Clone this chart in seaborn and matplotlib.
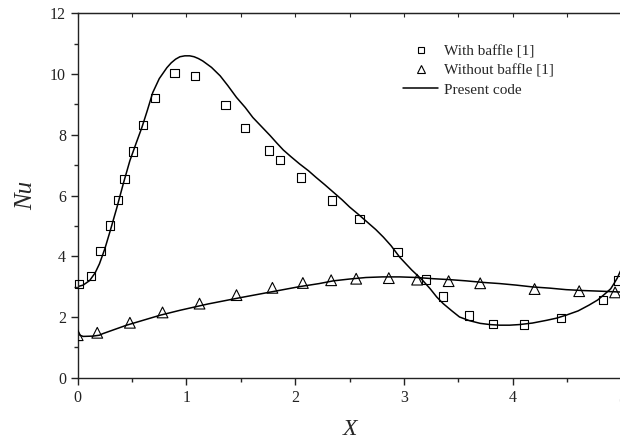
import numpy as np
import pandas as pd
import matplotlib
matplotlib.use("Agg")
import matplotlib.pyplot as plt
from matplotlib.lines import Line2D
from matplotlib.ticker import MultipleLocator
import seaborn as sns

# Экспериментальные точки: с перегородкой [1]
baffle_x = [0.015, 0.12, 0.21, 0.30, 0.37, 0.43, 0.51, 0.60, 0.71, 0.89, 1.08,
            1.36, 1.54, 1.76, 1.86, 2.05, 2.34, 2.59, 2.94, 3.20, 3.36, 3.60,
            3.82, 4.10, 4.44, 4.83, 4.97]
baffle_nu = [3.08, 3.36, 4.17, 5.01, 5.86, 6.55, 7.45, 8.33, 9.21, 10.04, 9.94,
             8.98, 8.23, 7.48, 7.17, 6.59, 5.84, 5.23, 4.15, 3.23, 2.67, 2.05,
             1.77, 1.75, 1.96, 2.55, 3.20]

# Экспериментальные точки: без перегородки [1]
plain_x = [0.0, 0.18, 0.48, 0.78, 1.12, 1.46, 1.79, 2.07, 2.33, 2.56, 2.86,
           3.12, 3.41, 3.70, 4.20, 4.61, 4.94]
plain_nu = [1.40, 1.48, 1.81, 2.15, 2.44, 2.72, 2.96, 3.12, 3.21, 3.26, 3.28,
            3.23, 3.18, 3.11, 2.92, 2.85, 2.81]

# Расчёт (present code), с перегородкой
code_b_x = [0.0, 0.05, 0.11, 0.16, 0.20, 0.25, 0.30, 0.36, 0.42, 0.48, 0.54, 0.59,
            0.64, 0.69, 0.75, 0.82, 0.86, 0.90, 0.94, 0.985, 1.03, 1.07, 1.11,
            1.15, 1.23, 1.31, 1.38, 1.46, 1.54, 1.61, 1.69, 1.77, 1.83, 1.89,
            1.96, 2.04, 2.12, 2.19, 2.27, 2.35, 2.43, 2.50, 2.58, 2.66, 2.74,
            2.81, 2.88, 2.96, 3.02, 3.07, 3.12, 3.17, 3.24, 3.30, 3.36, 3.44,
            3.51, 3.60, 3.70, 3.79, 3.88, 3.97, 4.06, 4.18, 4.31, 4.40, 4.49,
            4.60, 4.70, 4.78, 4.85, 4.90, 4.93, 4.96, 4.99]
code_b_nu = [3.00, 3.05, 3.20, 3.45, 3.75, 4.25, 4.85, 5.60, 6.40, 7.15, 7.75, 8.24,
             8.80, 9.39, 9.85, 10.21, 10.37, 10.49, 10.57, 10.60, 10.60, 10.57, 10.51,
             10.43, 10.22, 9.94, 9.62, 9.23, 8.90, 8.57, 8.27, 7.97, 7.73, 7.50,
             7.28, 7.04, 6.82, 6.60, 6.36, 6.11, 5.86, 5.62, 5.38, 5.13, 4.88,
             4.63, 4.35, 3.97, 3.74, 3.55, 3.38, 3.21, 2.93, 2.66, 2.44, 2.20,
             2.00, 1.88, 1.79, 1.75, 1.73, 1.73, 1.75, 1.80, 1.89, 1.96, 2.06,
             2.20, 2.39, 2.56, 2.77, 2.93, 3.10, 3.28, 3.52]

# Расчёт (present code), без перегородки
code_p_x = [0.0, 0.02, 0.05, 0.14, 0.20, 0.23, 0.45, 0.76, 0.94, 1.20, 1.50,
            1.80, 2.04, 2.22, 2.35, 2.50, 2.65, 2.80, 2.96, 3.12, 3.27, 3.42,
            3.57, 3.72, 3.88, 4.03, 4.18, 4.34, 4.49, 4.65, 4.80, 5.0]
code_p_nu = [1.52, 1.40, 1.36, 1.37, 1.40, 1.45, 1.73, 2.06, 2.22, 2.43, 2.64,
             2.84, 3.00, 3.10, 3.19, 3.25, 3.30, 3.32, 3.32, 3.30, 3.26, 3.23,
             3.19, 3.14, 3.10, 3.05, 2.99, 2.95, 2.90, 2.87, 2.85, 2.82]

sns.set_style("ticks")
plt.rcParams['font.family'] = ['Liberation Serif', 'DejaVu Serif']

fig = plt.figure(figsize=(6.2, 4.41), dpi=100)
ax = fig.add_axes([0.1253, 0.1435, 0.8773, 0.8263])

sns.lineplot(x=code_b_x, y=code_b_nu, ax=ax, color='black', lw=1.1,
             sort=False, estimator=None)
sns.lineplot(x=code_p_x, y=code_p_nu, ax=ax, color='black', lw=1.1,
             sort=False, estimator=None)

sns.scatterplot(x=baffle_x, y=baffle_nu, ax=ax, marker='s', s=36,
                edgecolor='black', linewidth=0.8, zorder=3, clip_on=False)
ax.collections[-1].set_facecolor('none')
sns.scatterplot(x=plain_x, y=plain_nu, ax=ax, marker='^', s=60,
                edgecolor='black', linewidth=0.8, zorder=3)
ax.collections[-1].set_facecolor('none')

ax.set_xlim(0, 5)
ax.set_ylim(0, 12)
ax.xaxis.set_major_locator(MultipleLocator(1))
ax.xaxis.set_minor_locator(MultipleLocator(0.5))
ax.yaxis.set_major_locator(MultipleLocator(2))
ax.yaxis.set_minor_locator(MultipleLocator(1))

for s in ['top', 'left', 'bottom', 'right']:
    ax.spines[s].set_visible(True)
    ax.spines[s].set_linewidth(1.0)
    ax.spines[s].set_color('#222222')

ax.tick_params(which='major', direction='out', length=5, width=1, labelsize=11.5,
               colors='#222222', top=False, right=False)
ax.tick_params(which='minor', direction='out', length=3, width=1,
               top=False, right=False)
# верхние засечки внутрь
ax2 = ax.secondary_xaxis('top')
ax2.xaxis.set_major_locator(MultipleLocator(0.5))
ax2.tick_params(direction='in', length=3, labeltop=False)
ax2.set_xticklabels([])

ax.set_xlabel('X', fontsize=17, style='italic', labelpad=10)
ax.set_ylabel('Nu', fontsize=18, style='italic', labelpad=9)

handles = [
    Line2D([], [], marker='s', ls='', mfc='none', mec='black', ms=5, mew=0.8),
    Line2D([], [], marker='^', ls='', mfc='none', mec='black', ms=6, mew=0.8),
    Line2D([], [], color='black', lw=1.1),
]
labels = ['With baffle [1]', 'Without baffle [1]', 'Present code']
ax.legend(handles, labels, loc='upper left', bbox_to_anchor=(0.587, 0.93),
          frameon=False, fontsize=11, handlelength=2.3, handletextpad=0.4,
          labelspacing=0.35, borderaxespad=0)

fig.savefig('out.png', dpi=100)
